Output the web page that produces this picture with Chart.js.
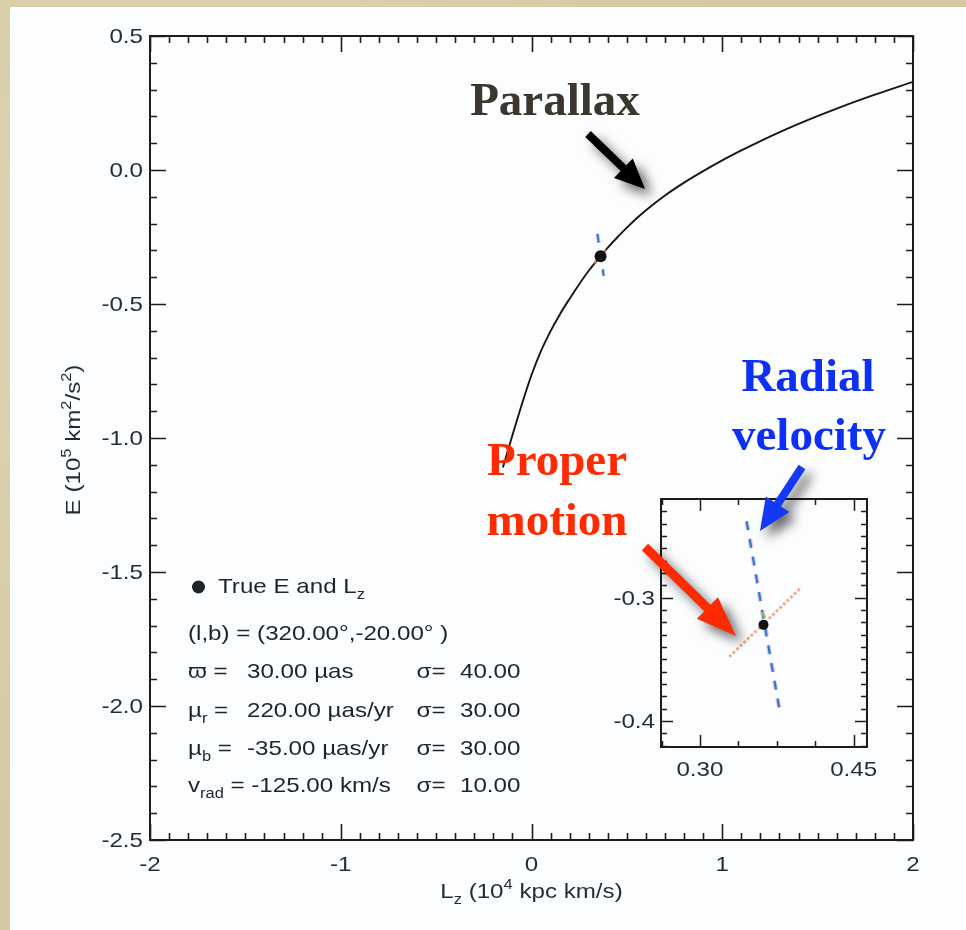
<!DOCTYPE html>
<html>
<head>
<meta charset="utf-8">
<script src="https://cdn.jsdelivr.net/npm/chart.js@4.4.1/dist/chart.umd.min.js"></script>
<style>
  html, body { margin: 0; padding: 0; }
  body {
    width: 966px; height: 930px; position: relative; overflow: hidden;
    background: #d5c9a3;
    background-image: radial-gradient(circle at 20% 30%, rgba(255,250,230,0.25), rgba(0,0,0,0) 60%),
                      radial-gradient(circle at 80% 80%, rgba(150,130,90,0.15), rgba(0,0,0,0) 60%);
  }
  #panel { position: absolute; left: 10px; top: 7px; width: 956px; height: 923px; background: #fcfdfe; }
  canvas { position: absolute; left: 0; top: 0; }
  #inset { pointer-events: none; }
</style>
</head>
<body>
<div id="panel"></div>
<canvas id="main" width="966" height="930"></canvas>
<canvas id="inset" width="966" height="930"></canvas>
<script>
// Energy vs. angular momentum track obtained by varying the parallax
const lzCurve = [-0.15, -0.10, -0.05, 0.00, 0.05, 0.10, 0.15, 0.20, 0.25, 0.30, 0.35, 0.40, 0.45,
                 0.50, 0.55, 0.60, 0.70, 0.80, 0.90, 1.00, 1.10, 1.20, 1.40, 1.60, 1.80, 2.00];
const eCurve  = [-1.110, -0.990, -0.873, -0.765, -0.675, -0.601, -0.537, -0.480, -0.426, -0.376, -0.332,
                 -0.290, -0.251, -0.215, -0.181, -0.150, -0.095, -0.047, -0.004, 0.036, 0.073, 0.108,
                 0.172, 0.229, 0.281, 0.329];

// True E and Lz of the star
const trueLz = [0.362];
const trueE  = [-0.322];

// Error tracks: radial velocity, proper motion, parallax (close-up)
const rvLz = [0.3455, 0.3785];
const rvE  = [-0.238, -0.395];
const pmLz = [0.3285, 0.3985];
const pmE  = [-0.348, -0.292];
const plxLz = [0.3603, 0.3636];
const plxE  = [-0.3118, -0.3159];

// Tick labels
const xTickValues = [-2, -1, 0, 1, 2];
const yTickValues = [0.5, 0.0, -0.5, -1.0, -1.5, -2.0, -2.5];
const insetXTicks = [0.30, 0.45];
const insetYTicks = [-0.3, -0.4];

const zip = (xs, ys) => xs.map((v, i) => ({ x: v, y: ys[i] }));

const SANS = '"Liberation Sans", Arial, Helvetica, sans-serif';
const SERIF = '"Liberation Serif", "Times New Roman", serif';
const STRETCH = 1.15;
const AXIS_INK = '#1c1c1c';
const LABEL_INK = '#1f2d35';

// horizontally widened text (the plotting font is broader than Arial)
function sText(ctx, str, x, y, align, size) {
  ctx.save();
  ctx.font = size + 'px ' + SANS;
  ctx.translate(x, y);
  ctx.scale(STRETCH, 1);
  ctx.textAlign = align;
  ctx.fillText(str, 0, 0);
  ctx.restore();
}

// text with sub/superscript pieces; segs = [[text, kind], ...]
function rich(ctx, segs, x, y, size, align) {
  ctx.save();
  ctx.textAlign = 'left';
  ctx.textBaseline = 'alphabetic';
  const parts = segs.map(([t, kind]) => {
    const fs = kind ? size * 0.68 : size;
    ctx.font = fs + 'px ' + SANS;
    return { t, fs, dy: kind === 'sub' ? size * 0.28 : kind === 'sup' ? -size * 0.42 : 0,
             w: ctx.measureText(t).width * STRETCH };
  });
  const total = parts.reduce((s, p) => s + p.w, 0);
  let cx = align === 'center' ? x - total / 2 : align === 'right' ? x - total : x;
  parts.forEach(p => {
    ctx.font = p.fs + 'px ' + SANS;
    ctx.save();
    ctx.translate(cx, y + p.dy);
    ctx.scale(STRETCH, 1);
    ctx.fillText(p.t, 0, 0);
    ctx.restore();
    cx += p.w;
  });
  ctx.restore();
}

function drawTicks(ctx, a, scale, horizontal, values, isMajor, majLen, minLen) {
  ctx.beginPath();
  values.forEach(v => {
    const len = isMajor(v) ? majLen : minLen;
    const p = Math.round(scale.getPixelForValue(v)) + 0.5;
    if (horizontal) {
      ctx.moveTo(p, a.bottom); ctx.lineTo(p, a.bottom - len);
      ctx.moveTo(p, a.top); ctx.lineTo(p, a.top + len);
    } else {
      ctx.moveTo(a.left, p); ctx.lineTo(a.left + len, p);
      ctx.moveTo(a.right, p); ctx.lineTo(a.right - len, p);
    }
  });
  ctx.stroke();
}

function arrow(ctx, x1, y1, x2, y2, color, shaft, headLen, headW) {
  const ang = Math.atan2(y2 - y1, x2 - x1);
  const L = Math.hypot(x2 - x1, y2 - y1);
  ctx.save();
  ctx.shadowColor = 'rgba(0,0,0,0.6)';
  ctx.shadowBlur = 12;
  ctx.shadowOffsetX = 7;
  ctx.shadowOffsetY = 7;
  ctx.translate(x1, y1);
  ctx.rotate(ang);
  ctx.beginPath();
  ctx.moveTo(0, -shaft / 2);
  ctx.lineTo(L - headLen, -shaft / 2);
  ctx.lineTo(L - headLen, -headW / 2);
  ctx.lineTo(L, 0);
  ctx.lineTo(L - headLen, headW / 2);
  ctx.lineTo(L - headLen, shaft / 2);
  ctx.lineTo(0, shaft / 2);
  ctx.closePath();
  ctx.fillStyle = color;
  ctx.fill();
  ctx.restore();
}

// ---------- main panel ----------
const mainFrame = {
  id: 'mainFrame',
  afterDraw(chart) {
    const { ctx, chartArea: a, scales: { x, y } } = chart;
    ctx.save();
    ctx.strokeStyle = AXIS_INK;
    ctx.lineWidth = 1.6;
    const xs = [], ys = [];
    for (let i = -20; i <= 20; i++) xs.push(i / 10);
    for (let i = -25; i <= 5; i++) ys.push(i / 10);
    drawTicks(ctx, a, x, true, xs, v => Math.abs(v - Math.round(v)) < 1e-9, 16, 7);
    drawTicks(ctx, a, y, false, ys, v => Math.abs(v * 2 - Math.round(v * 2)) < 1e-9, 16, 7);
    ctx.lineWidth = 2;
    ctx.strokeRect(a.left, a.top, a.right - a.left, a.bottom - a.top);

    ctx.fillStyle = LABEL_INK;
    ctx.textBaseline = 'middle';
    yTickValues.forEach(v => sText(ctx, v.toFixed(1), 143, y.getPixelForValue(v) + 1, 'right', 21));
    xTickValues.forEach(v => sText(ctx, String(v), x.getPixelForValue(v), 865, 'center', 21));

    // axis titles
    rich(ctx, [['L', ''], ['z', 'sub'], [' (10', ''], ['4', 'sup'], [' kpc km/s)', '']],
         (a.left + a.right) / 2, 898, 21, 'center');
    ctx.save();
    ctx.translate(80, (a.top + a.bottom) / 2 + 2);
    ctx.rotate(-Math.PI / 2);
    rich(ctx, [['E (10', ''], ['5', 'sup'], [' km', ''], ['2', 'sup'], ['/s', ''], ['2', 'sup'], [')', '']],
         0, 0, 21, 'center');
    ctx.restore();

    // parameter block
    ctx.fillStyle = '#1e2428';
    ctx.beginPath();
    ctx.arc(198.5, 587, 6.5, 0, Math.PI * 2);
    ctx.fill();
    rich(ctx, [['True E and L', ''], ['z', 'sub']], 218, 593, 21, 'left');
    rich(ctx, [['(l,b) = (320.00°,-20.00° )', '']], 188, 640, 21, 'left');
    rich(ctx, [['ϖ =', '']], 188, 678, 21, 'left');
    rich(ctx, [['30.00 µas', '']], 247, 678, 21, 'left');
    rich(ctx, [['µ', ''], ['r', 'sub'], [' =', '']], 188, 717, 21, 'left');
    rich(ctx, [['220.00 µas/yr', '']], 247, 717, 21, 'left');
    rich(ctx, [['µ', ''], ['b', 'sub'], [' =', '']], 188, 755, 21, 'left');
    rich(ctx, [['-35.00 µas/yr', '']], 247, 755, 21, 'left');
    rich(ctx, [['v', ''], ['rad', 'sub'], [' = -125.00 km/s', '']], 188, 792, 21, 'left');
    [['40.00', 678], ['30.00', 717], ['30.00', 755], ['10.00', 792]].forEach(([s, by]) => {
      rich(ctx, [['σ=', '']], 416.5, by, 21, 'left');
      rich(ctx, [[s, '']], 460, by, 21, 'left');
    });
    ctx.restore();
  }
};

new Chart(document.getElementById('main'), {
  type: 'scatter',
  data: {
    datasets: [
      { data: zip(trueLz, trueE), pointRadius: 6, pointBackgroundColor: '#111', pointBorderWidth: 0, order: 0 },
      { data: zip(rvLz, rvE), showLine: true, pointRadius: 0, borderColor: '#1f7fd6', borderWidth: 2,
        borderDash: [9, 9], order: 1 },
      { data: zip(rvLz, rvE), showLine: true, pointRadius: 0, borderColor: 'rgba(236,140,200,0.55)',
        borderWidth: 4, borderDash: [9, 9], order: 2 },
      { data: zip(pmLz, pmE), showLine: true, pointRadius: 0, borderColor: 'rgba(240,140,100,0.75)',
        borderWidth: 2.5, borderDash: [3, 2], order: 3 },
      { data: zip(lzCurve, eCurve), showLine: true, pointRadius: 0, borderColor: '#161616',
        borderWidth: 1.9, cubicInterpolationMode: 'monotone', order: 5 }
    ]
  },
  options: {
    responsive: false, animation: false, devicePixelRatio: 1, events: [],
    layout: { padding: { left: 0, top: 36, right: 53, bottom: 0 } },
    plugins: { legend: { display: false }, tooltip: { enabled: false } },
    scales: {
      x: { type: 'linear', min: -2, max: 2, grid: { display: false }, border: { display: false },
           ticks: { display: false },
           afterBuildTicks: s => { s.ticks = xTickValues.map(v => ({ value: v })); },
           afterFit: s => { s.height = 90; } },
      y: { type: 'linear', min: -2.5, max: 0.5, grid: { display: false }, border: { display: false },
           ticks: { display: false },
           afterBuildTicks: s => { s.ticks = yTickValues.map(v => ({ value: v })); },
           afterFit: s => { s.width = 150; } }
    }
  },
  plugins: [mainFrame]
});

// ---------- close-up panel and annotations ----------
const insetFrame = {
  id: 'insetFrame',
  beforeDraw(chart) {
    const { ctx, chartArea: a } = chart;
    ctx.save();
    ctx.fillStyle = '#fcfdfe';
    ctx.fillRect(a.left, a.top, a.right - a.left, a.bottom - a.top);
    ctx.restore();
  },
  afterDraw(chart) {
    const { ctx, chartArea: a, scales: { x, y } } = chart;
    ctx.save();
    ctx.strokeStyle = AXIS_INK;
    ctx.lineWidth = 1.5;
    const xs = [], ys = [];
    for (let i = 0; i <= 5; i++) xs.push(0.2625 + i * 0.0375);
    for (let i = 23; i <= 42; i++) ys.push(-i / 100);
    drawTicks(ctx, a, x, true, xs, v => Math.abs(v - 0.30) < 1e-6 || Math.abs(v - 0.45) < 1e-6, 12, 6);
    drawTicks(ctx, a, y, false, ys, v => Math.abs(v + 0.3) < 1e-6 || Math.abs(v + 0.4) < 1e-6, 12, 6);
    ctx.lineWidth = 2;
    ctx.strokeRect(a.left, a.top, a.right - a.left, a.bottom - a.top);

    ctx.fillStyle = LABEL_INK;
    ctx.textBaseline = 'middle';
    insetYTicks.forEach(v => sText(ctx, v.toFixed(1), 655, y.getPixelForValue(v) + 1, 'right', 21));
    insetXTicks.forEach(v => sText(ctx, v.toFixed(2), x.getPixelForValue(v), 770, 'center', 21));

    // annotation labels
    ctx.textBaseline = 'alphabetic';
    ctx.textAlign = 'center';
    ctx.font = 'bold 47px ' + SERIF;
    ctx.fillStyle = '#3b362e';
    ctx.fillText('Parallax', 555, 115);
    ctx.fillStyle = '#0d30f4';
    ctx.fillText('Radial', 808, 391);
    ctx.fillText('velocity', 809, 450);
    ctx.fillStyle = '#ff2a00';
    ctx.fillText('Proper', 557, 475);
    ctx.fillText('motion', 557, 535);

    arrow(ctx, 588, 134, 645, 189, '#000000', 8, 30, 27);
    arrow(ctx, 802, 467, 760, 531, '#1438f5', 8, 32, 28);
    arrow(ctx, 645, 547, 736, 636, '#ff2a00', 9, 40, 30);
    ctx.restore();
  }
};

new Chart(document.getElementById('inset'), {
  type: 'scatter',
  data: {
    datasets: [
      { data: zip(trueLz, trueE), pointRadius: 5, pointBackgroundColor: '#111', pointBorderWidth: 0, order: 0 },
      { data: zip(plxLz, plxE), showLine: true, pointRadius: 0, borderColor: 'rgba(150,200,60,0.9)',
        borderWidth: 2.5, order: 1 },
      { data: zip(rvLz, rvE), showLine: true, pointRadius: 0, borderColor: '#1f7fd6', borderWidth: 2.2,
        borderDash: [9, 9], order: 2 },
      { data: zip(rvLz, rvE), showLine: true, pointRadius: 0, borderColor: 'rgba(236,140,200,0.55)',
        borderWidth: 4.5, borderDash: [9, 9], order: 3 },
      { data: zip(pmLz, pmE), showLine: true, pointRadius: 0, borderColor: 'rgba(240,140,100,0.7)',
        borderWidth: 3, borderDash: [3, 2], order: 4 }
    ]
  },
  options: {
    responsive: false, animation: false, devicePixelRatio: 1, events: [],
    layout: { padding: { left: 600, top: 499, right: 99, bottom: 0 } },
    plugins: { legend: { display: false }, tooltip: { enabled: false } },
    scales: {
      x: { type: 'linear', min: 0.262, max: 0.463, grid: { display: false }, border: { display: false },
           ticks: { display: false },
           afterBuildTicks: s => { s.ticks = insetXTicks.map(v => ({ value: v })); },
           afterFit: s => { s.height = 183; } },
      y: { type: 'linear', min: -0.421, max: -0.220, grid: { display: false }, border: { display: false },
           ticks: { display: false },
           afterBuildTicks: s => { s.ticks = insetYTicks.map(v => ({ value: v })); },
           afterFit: s => { s.width = 61; } }
    }
  },
  plugins: [insetFrame]
});
</script>
</body>
</html>
